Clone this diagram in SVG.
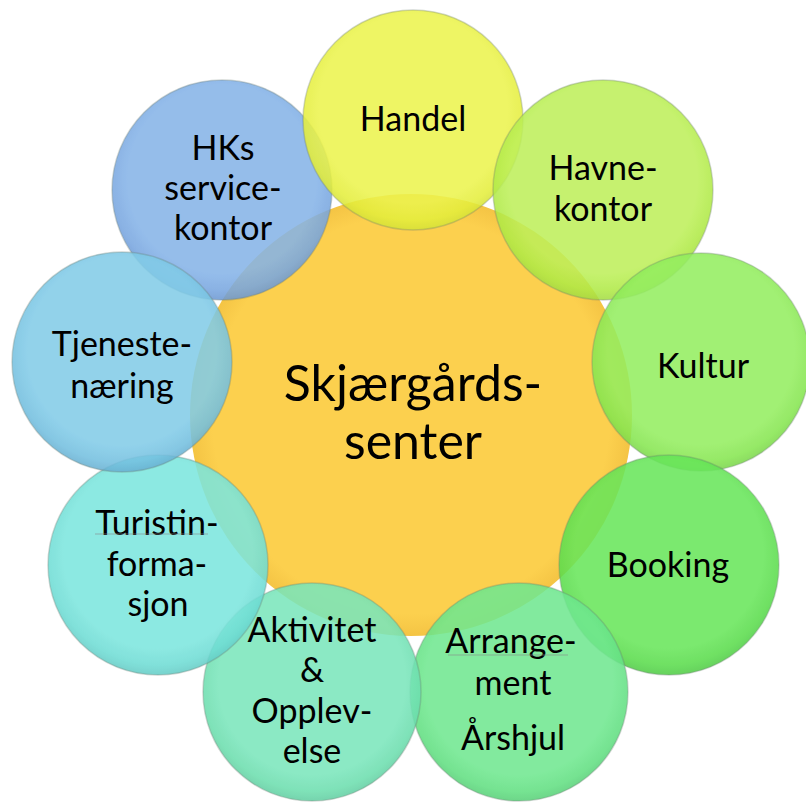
<svg xmlns="http://www.w3.org/2000/svg" width="806" height="802" viewBox="0 0 806 802">
<defs>
<style>
.lbl{font-family:Lato,"Liberation Sans",sans-serif;font-size:34px;fill:#000;text-anchor:middle}
.ctr{font-family:Lato,"Liberation Sans",sans-serif;font-size:50px;fill:#000;text-anchor:middle}
.bub{stroke:#6a7a70;stroke-opacity:0.35;stroke-width:1.5;opacity:0.87}
.ul{stroke:#8a8a8a;stroke-width:1.2;stroke-opacity:0.6}
</style>
<radialGradient id="gC" cx="0.5" cy="0.5" r="0.5">
<stop offset="0.9" stop-color="#FCD04E"/><stop offset="1" stop-color="#F4C444"/>
</radialGradient>
<radialGradient id="g1" cx="0.5" cy="0.45" r="0.55"><stop offset="0.78" stop-color="#ECF44E"/><stop offset="0.92" stop-color="#E4EE3C"/><stop offset="1" stop-color="#D6E238"/></radialGradient>
<radialGradient id="g2" cx="0.5" cy="0.45" r="0.55"><stop offset="0.78" stop-color="#BEF05A"/><stop offset="0.92" stop-color="#B0EA46"/><stop offset="1" stop-color="#A4DC42"/></radialGradient>
<radialGradient id="g3" cx="0.5" cy="0.45" r="0.55"><stop offset="0.78" stop-color="#94EE60"/><stop offset="0.92" stop-color="#86E650"/><stop offset="1" stop-color="#7AD64A"/></radialGradient>
<radialGradient id="g4" cx="0.5" cy="0.45" r="0.55"><stop offset="0.78" stop-color="#68E65A"/><stop offset="0.92" stop-color="#5ADC4C"/><stop offset="1" stop-color="#50CC46"/></radialGradient>
<radialGradient id="g5" cx="0.5" cy="0.45" r="0.55"><stop offset="0.78" stop-color="#70E890"/><stop offset="0.92" stop-color="#62E082"/><stop offset="1" stop-color="#58D078"/></radialGradient>
<radialGradient id="g6" cx="0.5" cy="0.45" r="0.55"><stop offset="0.78" stop-color="#7AE6BC"/><stop offset="0.92" stop-color="#6CDEAE"/><stop offset="1" stop-color="#62CEA2"/></radialGradient>
<radialGradient id="g7" cx="0.5" cy="0.45" r="0.55"><stop offset="0.78" stop-color="#7CE6DE"/><stop offset="0.92" stop-color="#6EDCD4"/><stop offset="1" stop-color="#64CCC6"/></radialGradient>
<radialGradient id="g8" cx="0.5" cy="0.45" r="0.55"><stop offset="0.78" stop-color="#82CCE8"/><stop offset="0.92" stop-color="#74C0E0"/><stop offset="1" stop-color="#68B0D2"/></radialGradient>
<radialGradient id="g9" cx="0.5" cy="0.45" r="0.55"><stop offset="0.78" stop-color="#86B4E8"/><stop offset="0.92" stop-color="#78A6E0"/><stop offset="1" stop-color="#6C98D2"/></radialGradient>
</defs>
<rect width="806" height="802" fill="#fff"/>
<g id="connectors"/>
<g id="center">
<circle cx="411" cy="415" r="221" fill="url(#gC)"/>
<text class="ctr" x="413" y="401">Skjærgårds-</text>
<text class="ctr" x="413" y="459">senter</text>
</g>
<g id="hks">
<circle class="bub" cx="222" cy="190" r="110" fill="url(#g9)"/>
<text class="lbl" x="223" y="160">HKs</text>
<text class="lbl" x="223" y="200">service-</text>
<text class="lbl" x="223" y="240">kontor</text>
</g>
<g id="handel">
<circle class="bub" cx="413" cy="120" r="110" fill="url(#g1)"/>
<text class="lbl" x="413" y="131">Handel</text>
</g>
<g id="havnekontor">
<circle class="bub" cx="603" cy="190" r="110" fill="url(#g2)"/>
<text class="lbl" x="603" y="180">Havne-</text>
<text class="lbl" x="603" y="221">kontor</text>
</g>
<g id="kultur">
<circle class="bub" cx="701" cy="362" r="109" fill="url(#g3)"/>
<text class="lbl" x="703" y="378">Kultur</text>
</g>
<g id="booking">
<circle class="bub" cx="669" cy="565" r="110" fill="url(#g4)"/>
<text class="lbl" x="668" y="577">Booking</text>
</g>
<g id="arrangement">
<circle class="bub" cx="519" cy="692" r="109" fill="url(#g5)"/>
<text class="lbl" x="511" y="653">Arrange-</text>
<line class="ul" x1="448" y1="655" x2="568" y2="655"/>
<text class="lbl" x="513" y="695">ment</text>
<text class="lbl" x="513" y="750">Årshjul</text>
</g>
<g id="aktivitet">
<circle class="bub" cx="312" cy="692" r="109" fill="url(#g6)"/>
<text class="lbl" x="312" y="642">Aktivitet</text>
<text class="lbl" x="312" y="682">&amp;</text>
<text class="lbl" x="312" y="723">Opplev-</text>
<text class="lbl" x="312" y="763">else</text>
</g>
<g id="turist">
<circle class="bub" cx="158" cy="565" r="110" fill="url(#g7)"/>
<text class="lbl" x="157" y="535">Turistin-</text>
<line class="ul" x1="95" y1="534" x2="208" y2="534"/>
<text class="lbl" x="157" y="576">forma-</text>
<text class="lbl" x="158" y="616">sjon</text>
</g>
<g id="tjeneste">
<circle class="bub" cx="122" cy="362" r="110" fill="url(#g8)"/>
<text class="lbl" x="122" y="356">Tjeneste-</text>
<text class="lbl" x="122" y="398">næring</text>
</g>
</svg>
